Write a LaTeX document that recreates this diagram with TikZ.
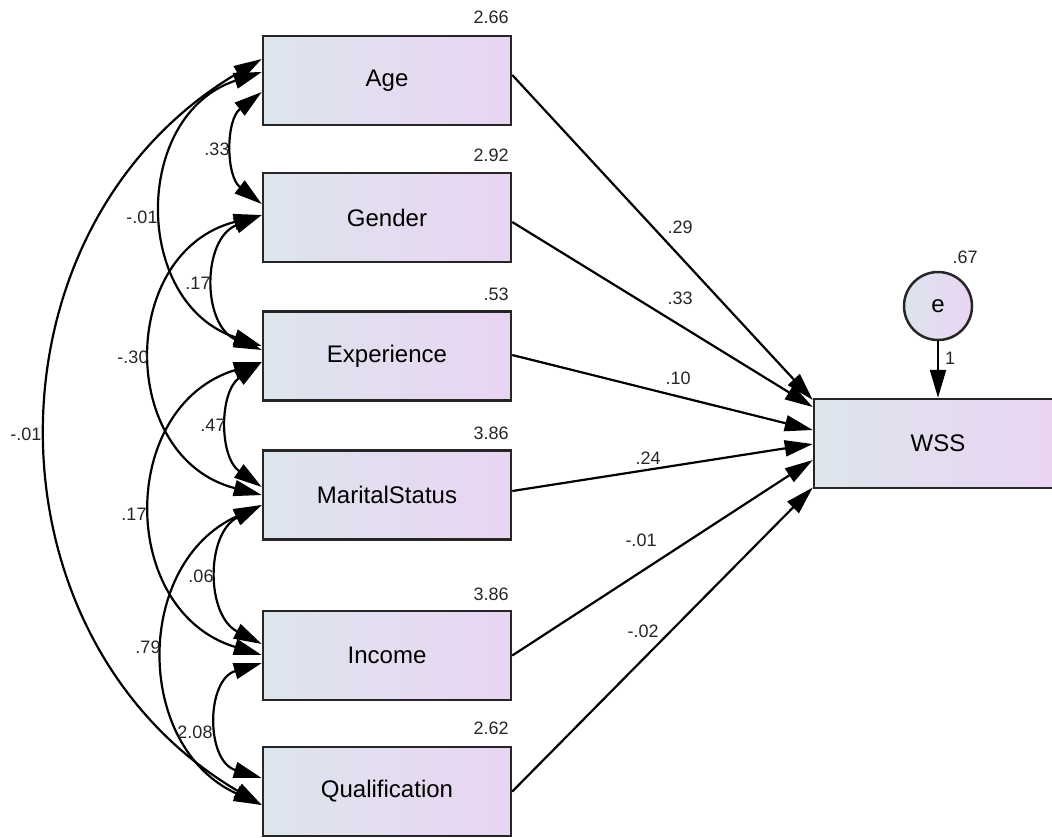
\documentclass[tikz,border=0pt]{standalone}
\usepackage{fontspec}
\setmainfont{Liberation Sans}
\usetikzlibrary{arrows.meta,calc}
\definecolor{boxL}{RGB}{221,229,236}
\definecolor{boxR}{RGB}{234,212,243}
\begin{document}
\begin{tikzpicture}[x=0.5pt,y=-0.5pt,
  var/.style={draw=black!85, line width=1.25pt, left color=boxL, right color=boxR,
    minimum width=124pt, minimum height=44.5pt, inner sep=0pt, font=\fontsize{12}{14}\selectfont},
  lat/.style={circle, draw=black!85, line width=1.25pt, left color=boxL, right color=boxR,
    minimum size=34pt, inner sep=0pt, font=\fontsize{12}{14}\selectfont},
  lbl/.style={font=\fontsize{9}{11}\selectfont, inner sep=0pt, text=black!85},
  regr/.style={line width=1.1pt, -{Triangle[length=14pt,width=8pt]}},
  cov/.style={line width=1.1pt, {Triangle[length=14pt,width=8pt]}-{Triangle[length=14pt,width=8pt]}}]
\useasboundingbox (0,0) rectangle (1052,837);
\clip (0,0) rectangle (1052,837);

% observed variables
\node[var] (age) at (387,80.5) {Age};
\node[var] (gen) at (387,217.5) {Gender};
\node[var] (exp) at (387,356) {Experience};
\node[var] (mar) at (387,495) {MaritalStatus};
\node[var] (inc) at (387,655.5) {Income};
\node[var] (qua) at (387,791.5) {Qualification};
\node[var] (wss) at (938,443.5) {WSS};
\node[lat] (e) at (938,306) {e};

% variances
\node[lbl, anchor=east] (vage) at (509,17) {2.66};
\node[lbl, anchor=east] (vgen) at (509,155) {2.92};
\node[lbl, anchor=east] (vexp) at (509,294) {.53};
\node[lbl, anchor=east] (vmar) at (509,433) {3.86};
\node[lbl, anchor=east] (vinc) at (509,594) {3.86};
\node[lbl, anchor=east] (vqua) at (509,728) {2.62};
\node[lbl] (ve) at (965,257) {.67};

% regressions
\draw[regr] ($(age.east)+(0,-5.5)$) -- ($(wss.west)+(0,-43.5)$);
\draw[regr] ($(gen.east)+(0,4.5)$) -- ($(wss.west)+(0,-36.5)$);
\draw[regr] ($(exp.east)+(0,-1)$) -- ($(wss.west)+(0,-13.5)$);
\draw[regr] ($(mar.east)+(0,-4)$) -- ($(wss.west)+(0,0.5)$);
\draw[regr] ($(inc.east)+(0,0)$) -- ($(wss.west)+(0,16.5)$);
\draw[regr] ($(qua.east)+(0,0)$) -- ($(wss.west)+(0,44)$);
\draw[regr] (e.south) -- (wss.north);

\node[lbl] (r1) at (680,227) {.29};
\node[lbl] (r2) at (680,298) {.33};
\node[lbl] (r3) at (678,378) {.10};
\node[lbl] (r4) at (648,458) {.24};
\node[lbl] (r5) at (641,540) {-.01};
\node[lbl] (r6) at (643,631) {-.02};
\node[lbl] (r7) at (950,358) {1};

% covariances
\draw[cov] ($(age.west)+(0,11.5)$) .. controls (225.7,120) and (225.7,176) .. ($(gen.west)+(0,-13.5)$);
\draw[cov] ($(age.west)+(0,-8.5)$) .. controls (132,114.7) and (132,303.3) .. ($(exp.west)+(0,-10)$);
\draw[cov] ($(gen.west)+(0,-2.5)$) .. controls (201.7,239.1) and (201.7,325.9) .. ($(exp.west)+(0,-6)$);
\draw[cov] ($(gen.west)+(0,-2.5)$) .. controls (117.7,251.8) and (117.7,458.2) .. ($(mar.west)+(0,0)$);
\draw[cov] ($(exp.west)+(0,6)$) .. controls (219,392) and (219,457) .. ($(mar.west)+(0,-8)$);
\draw[cov] ($(exp.west)+(0,6)$) .. controls (117.7,405.6) and (117.7,611.4) .. ($(inc.west)+(0,-0.5)$);
\draw[cov] ($(mar.west)+(0,10)$) .. controls (205.7,533.6) and (205.7,615.4) .. ($(inc.west)+(0,-11.5)$);
\draw[cov] ($(mar.west)+(0,10)$) .. controls (133.7,563.2) and (133.7,746.8) .. ($(qua.west)+(0,13.5)$);
\draw[cov] ($(inc.west)+(0,7.5)$) .. controls (205.7,679.9) and (205.7,761.1) .. ($(qua.west)+(0,-13.5)$);
\draw[cov] ($(age.west)+(0,-21.5)$) .. controls (-22.3,225.8) and (-22.3,638.2) .. ($(qua.west)+(0,13.5)$);

\node[lbl] (c1) at (217,149) {.33};
\node[lbl] (c2) at (142,217) {-.01};
\node[lbl] (c3) at (198,283) {.17};
\node[lbl] (c4) at (133,357) {-.30};
\node[lbl] (c5) at (213,425) {.47};
\node[lbl] (c6) at (134,514) {.17};
\node[lbl] (c7) at (201,576) {.06};
\node[lbl] (c8) at (148,647) {.79};
\node[lbl] (c9) at (195,732) {2.08};
\node[lbl] (c10) at (26,434) {-.01};
\end{tikzpicture}
\end{document}
